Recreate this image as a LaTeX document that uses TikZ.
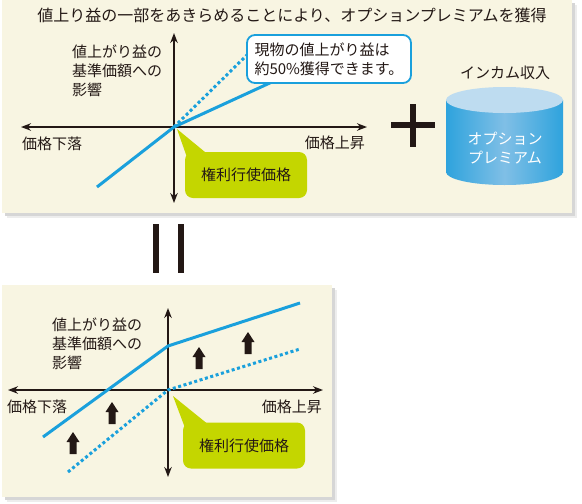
\documentclass[tikz,border=0pt]{standalone}
\usepackage{fontspec}
\setmainfont{Noto Sans CJK JP}
\usetikzlibrary{arrows.meta,calc}
\definecolor{cream}{HTML}{F8F5E2}
\definecolor{ink}{HTML}{231815}
\definecolor{lineblue}{HTML}{1AA0DC}
\definecolor{lime}{HTML}{C4D600}
\definecolor{cyltop}{HTML}{BEDCF0}
\definecolor{cylside}{HTML}{2EA3DD}
\definecolor{cylmid}{HTML}{80BFE6}
\begin{document}
\begin{tikzpicture}[x=1pt,y=-1pt,
  txt/.style={font=\fontsize{15}{19}\selectfont, text=ink, inner sep=0pt},
  axis/.style={draw=ink, line width=1.6pt, {Stealth[length=10pt,width=7.5pt]}-{Stealth[length=10pt,width=7.5pt]}},
  payoff/.style={draw=lineblue, line width=3pt, line join=round},
  dotline/.style={draw=lineblue, line width=3pt, dash pattern=on 3pt off 2.6pt},
  greenbox/.style={txt, fill=lime, rounded corners=8pt, minimum width=122pt, minimum height=46pt},
  notebox/.style={txt, draw=lineblue, line width=1.8pt, fill=white, rounded corners=8pt, minimum width=164pt, minimum height=48pt, align=left},
  cylshade/.style={left color=cylside, right color=cylside, middle color=cylmid},
  pics/uparr/.style={code={\fill[ink] (-3.5,22) -- (-3.5,10) -- (-6.5,10) -- (0,0) -- (6.5,10) -- (3.5,10) -- (3.5,22) -- cycle;}},
]
\useasboundingbox (0,0) rectangle (582,504);

% ---------- top panel ----------
\fill[black!7] (7,5) rectangle (577,218);
\fill[black!16] (5,3) rectangle (575,216);
\fill[cream] (2,0) rectangle (572,213);

\node[txt, font=\fontsize{16}{19}\selectfont] (title) at (292,15) {値上り益の一部をあきらめることにより、オプションプレミアムを獲得};

\coordinate (tyT) at (174,33);
\coordinate (tyB) at (174,203);
\coordinate (txL) at (21,127);
\coordinate (txR) at (367,127);
\draw[axis] (tyB) -- (tyT);
\draw[axis] (txL) -- (txR);

\node[txt, anchor=west, align=left] (tylab) at (72,71) {値上がり益の\\基準価額への\\影響};
\node[txt, anchor=west] (tdown) at (22,144) {価格下落};
\node[txt, anchor=east] (tup) at (365,143) {価格上昇};

\coordinate (tO) at (174,127);
\coordinate (tS1) at (97,187);
\coordinate (tS2) at (285,76);
\coordinate (tD2) at (252,50);
\draw[payoff] (tS1) -- (tO) -- (tS2);
\draw[dotline] (tO) -- (tD2);

\node[notebox] (note) at (329,59) {現物の値上がり益は\\約50\%獲得できます。};

\node[greenbox] (tstrike) at (246,175) {権利行使価格};
\coordinate (tptip) at (177,129);
\fill[lime] (tptip) -- ($(tstrike.north west)+(2,5)$) -- ($(tstrike.north west)+(26,5)$) -- cycle;

% plus sign
\fill[ink] (391,122) rectangle (435,128);
\fill[ink] (410,104) rectangle (416,147);

% cylinder
\node[txt] (income) at (505,73) {インカム収入};
\shade[cylshade] (504.5,172) ellipse [x radius=58.5, y radius=13];
\shade[cylshade] (446,100) rectangle (563,172);
\fill[cyltop] (504.5,100) ellipse [x radius=58.5, y radius=13];
\node[txt, text=white, align=center] (prem) at (505,148) {オプション\\プレミアム};

% equals (rotated) bars
\fill[ink] (153,224) rectangle (159,273);
\fill[ink] (178,224) rectangle (184,273);

% ---------- bottom panel ----------
\fill[black!7] (7,290) rectangle (337,502);
\fill[black!16] (5,288) rectangle (335,500);
\fill[cream] (2,285) rectangle (332,497);

\coordinate (byT) at (168,308);
\coordinate (byB) at (168,477);
\coordinate (bxL) at (8,390);
\coordinate (bxR) at (323,390);
\draw[axis] (byB) -- (byT);
\draw[axis] (bxL) -- (bxR);

\node[txt, anchor=west, align=left] (bylab) at (52,344) {値上がり益の\\基準価額への\\影響};
\node[txt, anchor=west] (bdown) at (7,407) {価格下落};
\node[txt, anchor=east] (bup) at (322,407) {価格上昇};

\coordinate (bO) at (168,390);
\coordinate (bK) at (168,346);
\coordinate (bS1) at (43,437);
\coordinate (bS2) at (300,303);
\coordinate (bD1) at (68,472);
\coordinate (bD2) at (300,349);
\draw[payoff] (bS1) -- (bK) -- (bS2);
\draw[dotline] (bD1) -- (bO) -- (bD2);

\pic at (73,432) {uparr};
\pic at (112,402) {uparr};
\pic at (199,347) {uparr};
\pic at (248,332) {uparr};

\node[greenbox] (bstrike) at (244,445.5) {権利行使価格};
\coordinate (bptip) at (173,396);
\fill[lime] (bptip) -- ($(bstrike.north west)+(2,5)$) -- ($(bstrike.north west)+(29,5)$) -- cycle;
\end{tikzpicture}
\end{document}
